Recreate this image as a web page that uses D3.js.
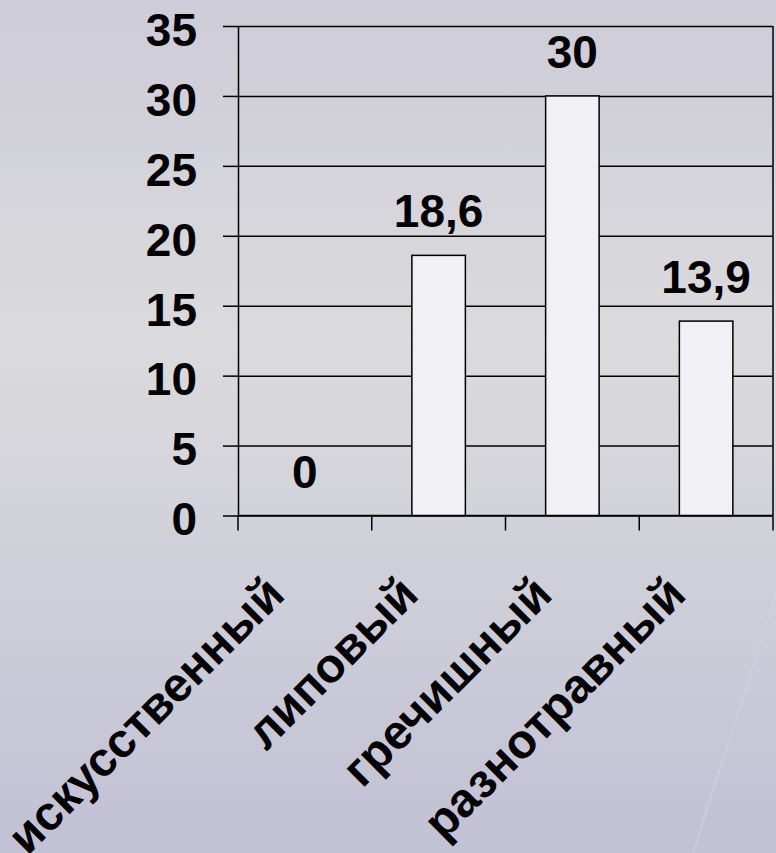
<!DOCTYPE html>
<html lang="ru">
<head>
  <meta charset="UTF-8">
  <title>Мёд</title>
  <script src="https://d3js.org/d3.v7.min.js"></script>
  <style>
    html, body { margin: 0; padding: 0; }
    body { width: 776px; height: 853px; overflow: hidden; }
    svg { display: block; font-family: "Liberation Sans", Arial, sans-serif; font-weight: bold; }
  </style>
</head>
<body>
  <div id="chart"></div>

  <script>
    // данные
    const categories = ["искусственный", "липовый", "гречишный", "разнотравный"];
    const values = [0, 18.6, 30, 13.9];
    const valueLabels = ["0", "18,6", "30", "13,9"];
    const yTicks = [0, 5, 10, 15, 20, 25, 30, 35];

    const width = 776;
    const height = 853;
    const plotLeft = 238, plotRight = 773, plotTop = 26, plotBottom = 515.5;
    const numSize = 46;   // цифры
    const catSize = 48;   // подписи категорий

    const svg = d3.select("#chart")
      .append("svg")
      .attr("width", width)
      .attr("height", height);

    // фон
    const defs = svg.append("defs");
    const grad = defs.append("linearGradient")
      .attr("id", "bg")
      .attr("x1", 0).attr("y1", 0).attr("x2", 0).attr("y2", 1);
    grad.append("stop").attr("offset", "0%").attr("stop-color", "#cdccd8");
    grad.append("stop").attr("offset", "40%").attr("stop-color", "#dbdbdd");
    grad.append("stop").attr("offset", "100%").attr("stop-color", "#c2c1d5");

    svg.append("rect")
      .attr("width", width)
      .attr("height", height)
      .attr("fill", "url(#bg)");

    // тонкая декоративная линия справа внизу
    svg.append("line")
      .attr("x1", 776).attr("y1", 595)
      .attr("x2", 693).attr("y2", 853)
      .attr("stroke", "#d2d2e6")
      .attr("stroke-width", 1);

    const x = d3.scaleBand()
      .domain(categories)
      .range([plotLeft, plotRight]);

    const y = d3.scaleLinear()
      .domain([0, 35])
      .range([plotBottom, plotTop]);

    // сетка
    svg.append("g")
      .attr("transform", `translate(${plotLeft},0)`)
      .call(d3.axisLeft(y).tickValues(yTicks).tickSize(-(plotRight - plotLeft)).tickFormat(""))
      .call(g => g.select(".domain").remove())
      .call(g => g.selectAll("line").attr("stroke", "#000").attr("stroke-width", 1.5));

    // ось Y
    svg.append("g")
      .attr("transform", `translate(${plotLeft},0)`)
      .call(d3.axisLeft(y).tickValues(yTicks).tickSize(15).tickPadding(26).tickSizeOuter(0))
      .call(g => g.select(".domain").attr("stroke", "#000").attr("stroke-width", 1.5))
      .call(g => g.selectAll("line").attr("stroke", "#000").attr("stroke-width", 1.5))
      .call(g => g.selectAll("text")
        .attr("font-size", numSize)
        .attr("font-weight", "bold")
        .attr("font-family", "Liberation Sans, Arial, sans-serif")
        .attr("fill", "#000")
        .attr("dy", "0.42em"));

    // правая граница области построения
    svg.append("line")
      .attr("x1", plotRight).attr("x2", plotRight)
      .attr("y1", y(35)).attr("y2", y(0))
      .attr("stroke", "#000")
      .attr("stroke-width", 1.5);

    // ось X
    svg.append("line")
      .attr("x1", plotLeft).attr("x2", plotRight)
      .attr("y1", y(0)).attr("y2", y(0))
      .attr("stroke", "#000")
      .attr("stroke-width", 1.5);

    const boundaries = categories.map(c => x(c)).concat([x.range()[1]]);
    svg.selectAll(".xtick")
      .data(boundaries)
      .enter()
      .append("line")
      .attr("class", "xtick")
      .attr("x1", d => d).attr("x2", d => d)
      .attr("y1", y(0)).attr("y2", y(0) + 15)
      .attr("stroke", "#000")
      .attr("stroke-width", 1.5);

    // столбцы
    const barW = x.bandwidth() * 0.4;
    svg.selectAll(".bar")
      .data(values)
      .enter()
      .append("rect")
      .attr("class", "bar")
      .attr("x", (d, i) => x(categories[i]) + (x.bandwidth() - barW) / 2)
      .attr("y", d => y(d))
      .attr("width", barW)
      .attr("height", d => y(0) - y(d))
      .attr("fill", "#f0f0f5")
      .attr("stroke", "#000")
      .attr("stroke-width", 1.5);

    // подписи значений
    svg.selectAll(".val")
      .data(values)
      .enter()
      .append("text")
      .attr("class", "val")
      .attr("x", (d, i) => x(categories[i]) + x.bandwidth() / 2)
      .attr("y", d => y(d) - 28)
      .attr("text-anchor", "middle")
      .attr("font-size", numSize)
      .attr("fill", "#000")
      .text((d, i) => valueLabels[i]);

    // подписи категорий
    svg.selectAll(".cat")
      .data(categories)
      .enter()
      .append("text")
      .attr("class", "cat")
      .attr("transform", d => `translate(${x(d) + x.bandwidth() / 2 - 18},597) rotate(-45)`)
      .attr("text-anchor", "end")
      .attr("font-size", catSize)
      .attr("fill", "#000")
      .text(d => d);
  </script>
</body>
</html>
